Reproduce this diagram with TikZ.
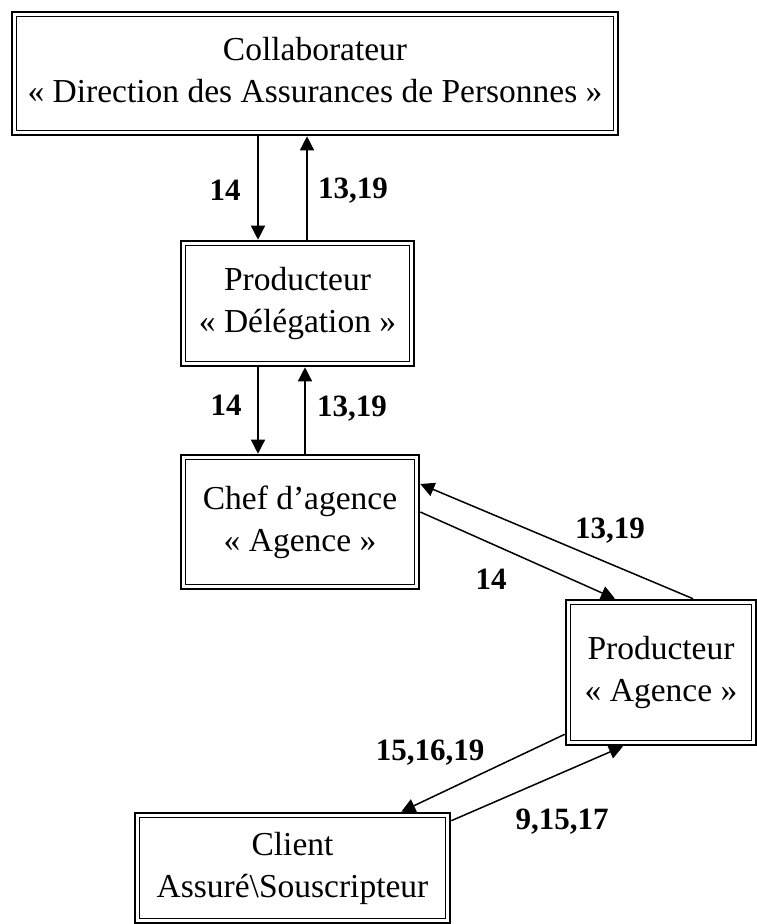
\documentclass[tikz,border=0pt]{standalone}
\usepackage{fontspec}
\setmainfont{Liberation Serif}
\usetikzlibrary{arrows.meta}
% two centred lines, lifted by #1 inside their frame
\newcommand{\twolines}[3]{\raisebox{#1}{\begin{tabular}{@{}c@{}}#2\\#3\end{tabular}}}
\begin{document}
\begin{tikzpicture}[x=1pt,y=-1pt,
  frame/.style={draw, line width=2.6pt, inner sep=0pt, align=center,
    font=\fontsize{33.5}{42}\selectfont,
    path picture={\draw[line width=1.1pt]
      ([xshift=4.6pt,yshift=-4.6pt]path picture bounding box.north west) rectangle
      ([xshift=-4.6pt,yshift=4.6pt]path picture bounding box.south east);}},
  flow/.style={line width=1.5pt, -{Triangle[length=14pt,width=14pt]}},
  num/.style={font=\fontsize{31}{36}\selectfont\bfseries, inner sep=0pt}]
\useasboundingbox (0,0) rectangle (757,924);

% boxes
\node[frame, minimum width=606pt, minimum height=123pt] (dap) at (315,73.5)
  {\twolines{5pt}{Collaborateur}{« Direction des Assurances de Personnes »}};
\node[frame, minimum width=233pt, minimum height=125pt] (deleg) at (297.5,303.5)
  {\twolines{7pt}{Producteur}{« Délégation »}};
\node[frame, minimum width=238pt, minimum height=134pt] (chef) at (300,522)
  {\twolines{13pt}{Chef d’agence}{« Agence »}};
\node[frame, minimum width=190pt, minimum height=145pt] (prod) at (661,672.5)
  {\twolines{16pt}{Producteur}{« Agence »}};
\node[frame, minimum width=315pt, minimum height=110pt] (client) at (292.5,868)
  {\twolines{-4pt}{Client}{Assuré\textbackslash Souscripteur}};

% vertical links
\draw[flow] ([xshift=-39.5pt]deleg.north |- dap.south) -- ([xshift=-39.5pt]deleg.north);
\draw[flow] ([xshift=9.5pt]deleg.north) -- ([xshift=9.5pt]deleg.north |- dap.south);
\draw[flow] ([xshift=-39.5pt]deleg.south) -- ([xshift=-39.5pt]deleg.south |- chef.north);
\draw[flow] ([xshift=7.5pt]deleg.south |- chef.north) -- ([xshift=7.5pt]deleg.south);

% diagonal links
\draw[flow] ([yshift=10pt]chef.east) -- ([xshift=-46pt]prod.north);
\draw[flow] ([xshift=32pt]prod.north) -- ([yshift=38pt]chef.east);
\draw[flow] ([yshift=12pt]prod.south west) -- ([xshift=-50pt]client.north east);
\draw[flow] ([yshift=-9pt]client.north east) -- ([xshift=-38pt]prod.south);

% labels
\node[num] (l1) at (225,190) {14};
\node[num] (l2) at (353,191) {13,19};
\node[num] (l3) at (226,405) {14};
\node[num] (l4) at (352,409) {13,19};
\node[num] (l5) at (610,531) {13,19};
\node[num] (l6) at (491,579) {14};
\node[num] (l7) at (430,753) {15,16,19};
\node[num] (l8) at (562,822) {9,15,17};
\end{tikzpicture}
\end{document}
